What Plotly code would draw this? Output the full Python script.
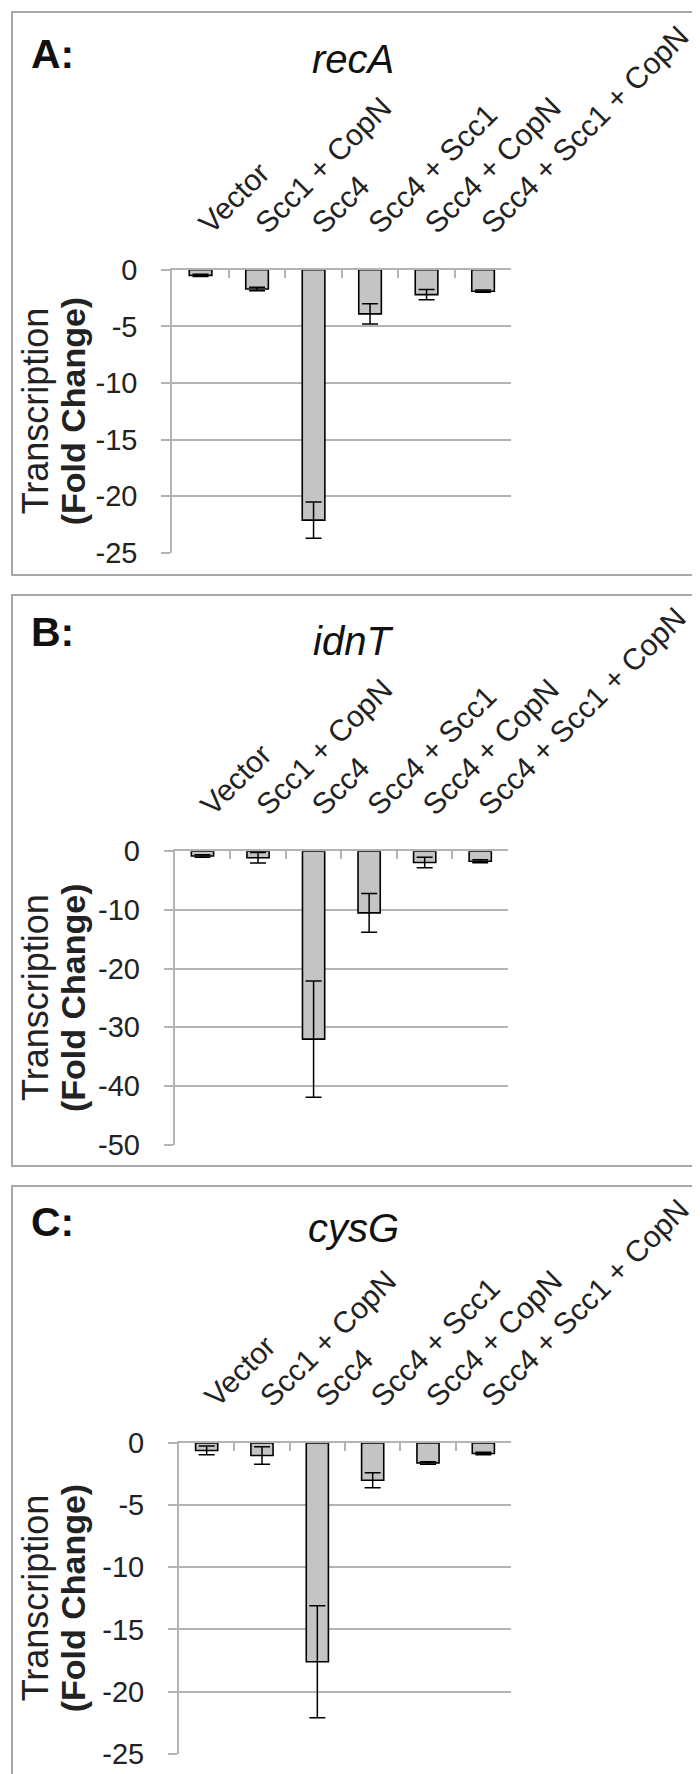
import plotly.graph_objects as go

W, H = 700, 1774

categories = ["Vector", "Scc1 + CopN", "Scc4", "Scc4 + Scc1", "Scc4 + CopN", "Scc4 + Scc1 + CopN"]

panel_letters = ["A:", "B:", "C:"]
gene_titles = ["recA", "idnT", "cysG"]

recA_values = [-0.5, -1.7, -22.1, -3.9, -2.2, -1.9]
recA_errors = [0.1, 0.15, 1.6, 0.9, 0.45, 0.1]

idnT_values = [-0.8, -1.1, -32.0, -10.5, -1.9, -1.7]
idnT_errors = [0.2, 0.9, 9.9, 3.3, 0.9, 0.25]

cysG_values = [-0.6, -1.0, -17.6, -3.0, -1.6, -0.85]
cysG_errors = [0.35, 0.7, 4.5, 0.6, 0.1, 0.1]

recA_ticks = [0, -5, -10, -15, -20, -25]
idnT_ticks = [0, -10, -20, -30, -40, -50]
cysG_ticks = [0, -5, -10, -15, -20, -25]
recA_ticktext = ["0", "-5", "-10", "-15", "-20", "-25"]
idnT_ticktext = ["0", "-10", "-20", "-30", "-40", "-50"]
cysG_ticktext = ["0", "-5", "-10", "-15", "-20", "-25"]

y_title_1 = "Transcription"
y_title_2 = "(Fold Change)"

FONT = "Liberation Sans, Arial, sans-serif"
GRID = "#b4b4b4"
BOXC = "#a8a8a8"
BARC = "#c4c4c4"

panels = [
    dict(vals=recA_values, errs=recA_errors, ticks=recA_ticks, tt=recA_ticktext,
         x0=164.3, x1=503.3, ytop=261.7, ybot=545.0, box=(4, 567), letter_y=46, title_y=51),
    dict(vals=idnT_values, errs=idnT_errors, ticks=idnT_ticks, tt=idnT_ticktext,
         x0=166.7, x1=500.0, ytop=843.3, ybot=1136.7, box=(587, 1158), letter_y=624, title_y=633),
    dict(vals=cysG_values, errs=cysG_errors, ticks=cysG_ticks, tt=cysG_ticktext,
         x0=171.0, x1=503.0, ytop=1435.0, ybot=1745.7, box=(1178, 1768), letter_y=1214, title_y=1220),
]

def px_x(x):
    return x / W

def px_y(y):
    return 1 - y / H

fig = go.Figure()
layout = dict(
    template="none",
    width=W, height=H,
    margin=dict(l=0, r=0, t=0, b=0, autoexpand=False),
    paper_bgcolor="white", plot_bgcolor="white",
    showlegend=False,
    font=dict(family=FONT, color="#222222"),
    shapes=[], annotations=[],
)

for i, p in enumerate(panels):
    n = "" if i == 0 else str(i + 1)
    xa = "x" + n
    ya = "y" + n
    fig.add_trace(go.Bar(
        x=categories, y=p["vals"], xaxis=xa, yaxis=ya,
        width=0.4,
        marker=dict(color=BARC, line=dict(color="black", width=1.6)),
        error_y=dict(type="data", array=p["errs"], visible=True,
                     color="black", thickness=1.5, width=8),
    ))
    lo = p["ticks"][-1]
    layout["xaxis" + n] = dict(
        domain=[px_x(p["x0"]), px_x(p["x1"])],
        anchor=ya, side="top", type="category", automargin=False,
        showline=True, linecolor=GRID, linewidth=2,
        ticks="inside", tickson="boundaries", ticklen=8, tickcolor=GRID, tickwidth=2,
        showgrid=False, tickangle=-45, ticklabelstandoff=16,
        tickfont=dict(size=30, family=FONT, color="#222222"),
        fixedrange=True,
    )
    layout["yaxis" + n] = dict(
        domain=[px_y(p["ybot"]), px_y(p["ytop"])],
        anchor=xa, range=[lo, 0], automargin=False,
        tickvals=p["ticks"], ticktext=p["tt"],
        showline=True, linecolor=GRID, linewidth=2,
        ticks="outside", ticklen=9, tickcolor=GRID, tickwidth=2,
        showgrid=True, gridcolor=GRID, gridwidth=2,
        zeroline=False, ticklabelstandoff=18,
        tickfont=dict(size=29, family=FONT, color="#222222"),
        fixedrange=True,
    )
    top, bot = p["box"]
    layout["shapes"].append(dict(
        type="rect", xref="paper", yref="paper",
        x0=px_x(4), x1=px_x(690), y0=px_y(bot), y1=px_y(top),
        line=dict(color=BOXC, width=2), fillcolor="rgba(0,0,0,0)", layer="below",
    ))
    layout["annotations"].append(dict(
        text="<b>" + panel_letters[i] + "</b>", xref="paper", yref="paper",
        x=px_x(21), y=px_y(p["letter_y"]), xanchor="left", yanchor="middle",
        showarrow=False, font=dict(size=41, family=FONT, color="#111111"),
    ))
    layout["annotations"].append(dict(
        text="<i>" + gene_titles[i] + "</i>", xref="paper", yref="paper",
        x=px_x(345), y=px_y(p["title_y"]), xanchor="center", yanchor="middle",
        showarrow=False, font=dict(size=40, family=FONT, color="#111111"),
    ))
    yc = (p["ytop"] + p["ybot"]) / 2
    layout["annotations"].append(dict(
        text=y_title_1, xref="paper", yref="paper",
        x=px_x(27), y=px_y(yc), xanchor="center", yanchor="middle",
        textangle=-90, showarrow=False,
        font=dict(size=36, family=FONT, color="#222222"),
    ))
    layout["annotations"].append(dict(
        text="<b>" + y_title_2 + "</b>", xref="paper", yref="paper",
        x=px_x(65), y=px_y(yc), xanchor="center", yanchor="middle",
        textangle=-90, showarrow=False,
        font=dict(size=34, family=FONT, color="#222222"),
    ))

fig.update_layout(**layout)
fig.write_html("out.html")
